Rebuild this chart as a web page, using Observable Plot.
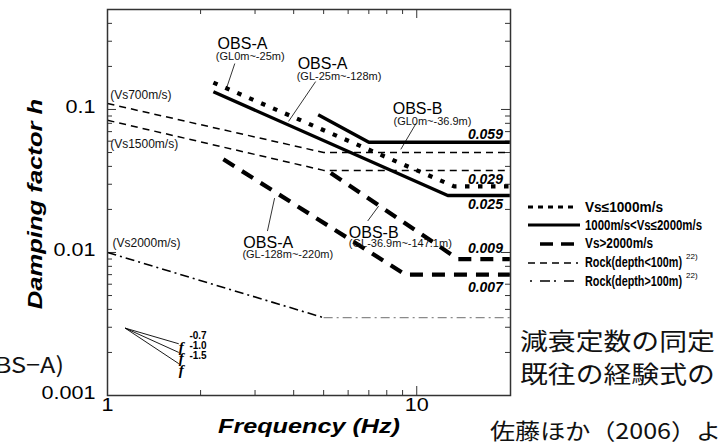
<!DOCTYPE html>
<html><head><meta charset="utf-8">
<script src="https://cdn.jsdelivr.net/npm/d3@7"></script>
<script src="https://cdn.jsdelivr.net/npm/@observablehq/plot@0.6"></script>
<style>
html,body{margin:0;padding:0;background:#fff;overflow:hidden}
#chart{position:relative;width:718px;height:442px;overflow:hidden}
</style></head><body><div id="chart"></div>
<script>
// ---------- data (frequency Hz, damping factor h) ----------
const xTickLabels = [1, 10];
const yTickLabels = [0.001, 0.01, 0.1];
const xMinorTicks = [2, 3, 4, 5, 6, 7, 8, 9];
const yMinorTicks = [0.002,0.003,0.004,0.005,0.006,0.007,0.008,0.009,
                     0.02,0.03,0.04,0.05,0.06,0.07,0.08,0.09,0.2,0.3,0.4];

const obsA_GL0_25    = [[2.2, 0.154], [13.2, 0.029], [20, 0.029]];   // Vs<=1000
const obsA_GL25_128  = [[2.2, 0.133], [12.6, 0.025], [20, 0.025]];   // 1000<Vs<=2000
const obsB_GL0_369   = [[4.8, 0.092], [7.0, 0.059], [20, 0.059]];    // 1000<Vs<=2000
const obsA_GL128_220 = [[2.37, 0.0448], [9.2, 0.007], [20, 0.007]];  // Vs>2000
const obsB_GL369_1471= [[5.27, 0.036], [13.6, 0.009], [20, 0.009]];  // Vs>2000
const rockVs700      = [[1, 0.11], [5, 0.05], [20, 0.05]];
const rockVs1500     = [[1, 0.084], [5, 0.0375], [20, 0.0375]];
const rockVs2000     = [[1, 0.01], [5, 0.0035], [20, 0.0035]];

const slopeStart = [1.14, 0.00296];
const slopeEnds = [[1.70, 0.0023], [1.70, 0.0020], [1.70, 0.00167]];
const slopeExponents = ["-0.7", "-1.0", "-1.5"];

const valueLabels = ["0.059", "0.029", "0.025", "0.009", "0.007"];
const obsNames  = ["OBS-A", "OBS-A", "OBS-B", "OBS-A", "OBS-B"];
const obsDepths = ["(GL0m~-25m)", "(GL-25m~-128m)", "(GL0m~-36.9m)", "(GL-128m~-220m)", "(GL-36.9m~-147.1m)"];
const rockNames = ["(Vs700m/s)", "(Vs1500m/s)", "(Vs2000m/s)"];
const legendNames = ["Vs\u22641000m/s", "1000m/s<Vs\u22642000m/s", "Vs>2000m/s", "Rock(depth<100m)", "Rock(depth>100m)"];

// ---------- annotation placement (data coordinates) ----------
const obsNameAt  = [[2.27,0.288],[4.12,0.2095],[8.36,0.1016],[2.75,0.01164],[6.03,0.01368]];
const obsDepthAt = [[2.24,0.236],[4.09,0.171],[8.41,0.0818],[2.73,0.00969],[6.03,0.01156]];
const leaders = [[2.58,0.2095,2.43,0.1423],[4.71,0.1567,3.85,0.0825],[9.95,0.0799,8.88,0.0526],
                 [3.29,0.01412,3.47,0.0240],[6.94,0.0166,7.53,0.0211]];
const valueAtH = [0.0664, 0.0323, 0.0216, 0.01067, 0.0057];
const rockAt = [[1.02,0.125],[1.02,0.057],[1.038,0.01164]];
const slopeFAt = [0.00218, 0.001825, 0.001507];
const slopeSupAt = [0.00262, 0.00223, 0.0019];

// ---------- layout ----------
const width = 718, height = 442;
const mL = 107, mR = 208, mT = 9, mB = 47;
const iW = width - mL - mR, iH = height - mT - mB;

const P = d => d[0], Q = d => d[1];
const thick = {x: P, y: Q, stroke: "#000", strokeLinecap: "butt", strokeLinejoin: "miter"};

const plot = Plot.plot({
  width, height, marginLeft: mL, marginRight: mR, marginTop: mT, marginBottom: mB,
  x: {type: "log", domain: [1, 20.1]},
  y: {type: "log", domain: [0.001, 0.5]},
  style: {fontFamily: "'Liberation Sans', Arial, sans-serif", background: "#fff", color: "#000"},
  marks: [
    // ticks (inside, on all four sides)
    Plot.tickX(xTickLabels, {x: d => d, insetTop: iH - 9, stroke: "#333"}),
    Plot.tickX(xTickLabels, {x: d => d, insetBottom: iH - 9, stroke: "#333"}),
    Plot.tickX(xMinorTicks, {x: d => d, insetTop: iH - 5, stroke: "#333"}),
    Plot.tickX(xMinorTicks, {x: d => d, insetBottom: iH - 5, stroke: "#333"}),
    Plot.tickY(yTickLabels, {y: d => d, insetRight: iW - 9, stroke: "#333"}),
    Plot.tickY(yTickLabels, {y: d => d, insetLeft: iW - 9, stroke: "#333"}),
    Plot.tickY(yMinorTicks, {y: d => d, insetRight: iW - 5, stroke: "#333"}),
    Plot.tickY(yMinorTicks, {y: d => d, insetLeft: iW - 5, stroke: "#333"}),
    Plot.axisX({ticks: xTickLabels, anchor: "bottom", tickSize: 0, tickPadding: 3, fontSize: 18,
                tickFormat: d => String(d), label: null}),
    Plot.axisY({ticks: yTickLabels, anchor: "left", tickSize: 0, tickPadding: 12, fontSize: 18, dy: -2,
                tickFormat: d => String(d), label: null}),
    // empirical rock curves
    Plot.line(rockVs700,  {...thick, strokeWidth: 1.5, strokeDasharray: "7,5"}),
    Plot.line(rockVs1500, {...thick, strokeWidth: 1.5, strokeDasharray: "7,5"}),
    Plot.line(rockVs2000.slice(0, 2), {...thick, strokeWidth: 1.6, strokeDasharray: "9,4,2,4"}),
    Plot.line(rockVs2000.slice(1), {...thick, stroke: "#8a8a8a", strokeWidth: 1.2, strokeDasharray: "9,4,2,4"}),
    // identified curves
    Plot.line(obsA_GL0_25,    {...thick, strokeWidth: 4.2, strokeDasharray: "4.5,8.5"}),
    Plot.line(obsA_GL25_128,  {...thick, strokeWidth: 3.4}),
    Plot.line(obsB_GL0_369,   {...thick, strokeWidth: 3.4}),
    Plot.line(obsA_GL128_220, {...thick, strokeWidth: 4.2, strokeDasharray: "13,9"}),
    Plot.line(obsB_GL369_1471,{...thick, strokeWidth: 4.2, strokeDasharray: "13,9"}),
    // leaders
    Plot.link(leaders, {x1: d => d[0], y1: d => d[1], x2: d => d[2], y2: d => d[3], stroke: "#000", strokeWidth: 0.8}),
    // slope guides
    Plot.link(slopeEnds, {x1: () => slopeStart[0], y1: () => slopeStart[1], x2: P, y2: Q, stroke: "#000", strokeWidth: 0.9}),
    Plot.text(slopeExponents, {x: () => 1.70, y: (d, i) => slopeFAt[i], text: () => "f", textAnchor: "start",
      fontSize: 15, fontWeight: "bold", fontStyle: "italic", fontFamily: "'Liberation Serif', serif", fill: "#000"}),
    Plot.text(slopeExponents, {x: () => 1.84, y: (d, i) => slopeSupAt[i], text: d => d, textAnchor: "start",
      fontSize: 10, fontWeight: "bold", fill: "#000", ariaLabel: "sup"}),
    // labels
    Plot.text(obsNames, {x: (d, i) => obsNameAt[i][0], y: (d, i) => obsNameAt[i][1], text: d => d,
      textAnchor: "start", fontSize: 16, fill: "#000", ariaLabel: "obsname"}),
    Plot.text(obsDepths, {x: (d, i) => obsDepthAt[i][0], y: (d, i) => obsDepthAt[i][1], text: d => d,
      textAnchor: "start", fontSize: 11, fill: "#111", ariaLabel: "obsdepth"}),
    Plot.text(valueLabels, {x: () => 19, y: (d, i) => valueAtH[i], text: d => d, textAnchor: "end",
      fontSize: 14, fontWeight: "bold", fontStyle: "italic", fill: "#000", ariaLabel: "vals"}),
    Plot.text(rockNames, {x: (d, i) => rockAt[i][0], y: (d, i) => rockAt[i][1], text: d => d,
      textAnchor: "start", fontSize: 12, fill: "#111", ariaLabel: "rock"}),
    Plot.frame({stroke: "#333", strokeWidth: 1.5})
  ]
});

document.getElementById("chart").appendChild(plot);
const svg = d3.select(plot);

function stretch(nodes, sx) {
  nodes.forEach(el => {
    const bb = el.getBBox();
    const a = getComputedStyle(el).getPropertyValue("text-anchor");
    const ax = a === "end" ? bb.x + bb.width : a === "middle" ? bb.x + bb.width / 2 : bb.x;
    const old = el.getAttribute("transform") || "";
    el.setAttribute("transform", `${old} translate(${ax},0) scale(${sx},1) translate(${-ax},0)`);
  });
}
const q = s => plot.querySelectorAll(s);
stretch(q('g[aria-label="x-axis tick label"] text'), 1.2);
stretch(q('g[aria-label="y-axis tick label"] text'), 1.2);
stretch(q('g[aria-label="obsname"] text'), 0.88);
stretch(q('g[aria-label="obsdepth"] text'), 0.88);
stretch(q('g[aria-label="vals"] text'), 1.2);
stretch(q('g[aria-label="sup"] text'), 1.05);

// axis titles
svg.append("text").attr("transform", "translate(309,433) scale(1.2,1)")
  .attr("text-anchor", "middle").attr("font-size", 21).attr("font-weight", "bold").attr("font-style", "italic")
  .attr("fill", "#000").text("Frequency (Hz)");
svg.append("text").attr("transform", "translate(42,204) rotate(-90) scale(1.22,1)")
  .attr("text-anchor", "middle").attr("font-size", 21).attr("font-weight", "bold").attr("font-style", "italic")
  .attr("fill", "#000").text("Damping factor h");

// legend
const lg = svg.append("g").attr("font-family", "'Liberation Sans', Arial, sans-serif").attr("text-anchor", "start");
const rowY = [207, 225, 244, 263, 281];
const rowBase = [212, 230, 248, 267, 286];
const rowLen = [78, 117, 68, 97, 97];
const swatch = [
  {x1: 528, x2: 578, w: 3.2, dash: "5,5", c: "#000"},
  {x1: 528, x2: 580, w: 3.2, dash: null, c: "#000"},
  {x1: 540, x2: 574, w: 3.6, dash: "13,8", c: "#000"},
  {x1: 528, x2: 578, w: 1.5, dash: "7,5", c: "#000"},
  {x1: 530, x2: 578, w: 1.5, dash: "2,8,10,4", c: "#000"}
];
legendNames.forEach((name, i) => {
  const s = swatch[i];
  lg.append("line").attr("x1", s.x1).attr("x2", s.x2).attr("y1", rowY[i]).attr("y2", rowY[i])
    .attr("stroke", s.c).attr("stroke-width", s.w).attr("stroke-dasharray", s.dash);
  lg.append("text").attr("x", 585).attr("y", rowBase[i]).attr("font-size", 14).attr("font-weight", "bold")
    .attr("textLength", rowLen[i]).attr("lengthAdjust", "spacingAndGlyphs").attr("fill", "#000").text(name);
  if (i >= 3) lg.append("text").attr("x", 686).attr("y", rowBase[i] - 8).attr("font-size", 8)
    .attr("fill", "#000").text("22)");
});

// slide text around the figure
const jp = svg.append("g").attr("font-family", "'Noto Sans CJK JP', sans-serif").attr("fill", "#111").attr("text-anchor", "start");
jp.append("text").attr("transform", "translate(520,350) scale(1.16,1)").attr("font-size", 24).text("減衰定数の同定");
jp.append("text").attr("transform", "translate(520,383) scale(1.16,1)").attr("font-size", 24).text("既往の経験式の");
jp.append("text").attr("transform", "translate(490,439) scale(1.14,1)").attr("font-size", 22).text("佐藤ほか（2006）よ");
jp.append("text").attr("transform", "translate(64,373) scale(1.15,1)").attr("text-anchor", "end").attr("font-size", 22).text("(OBS−A)");
</script></body></html>
